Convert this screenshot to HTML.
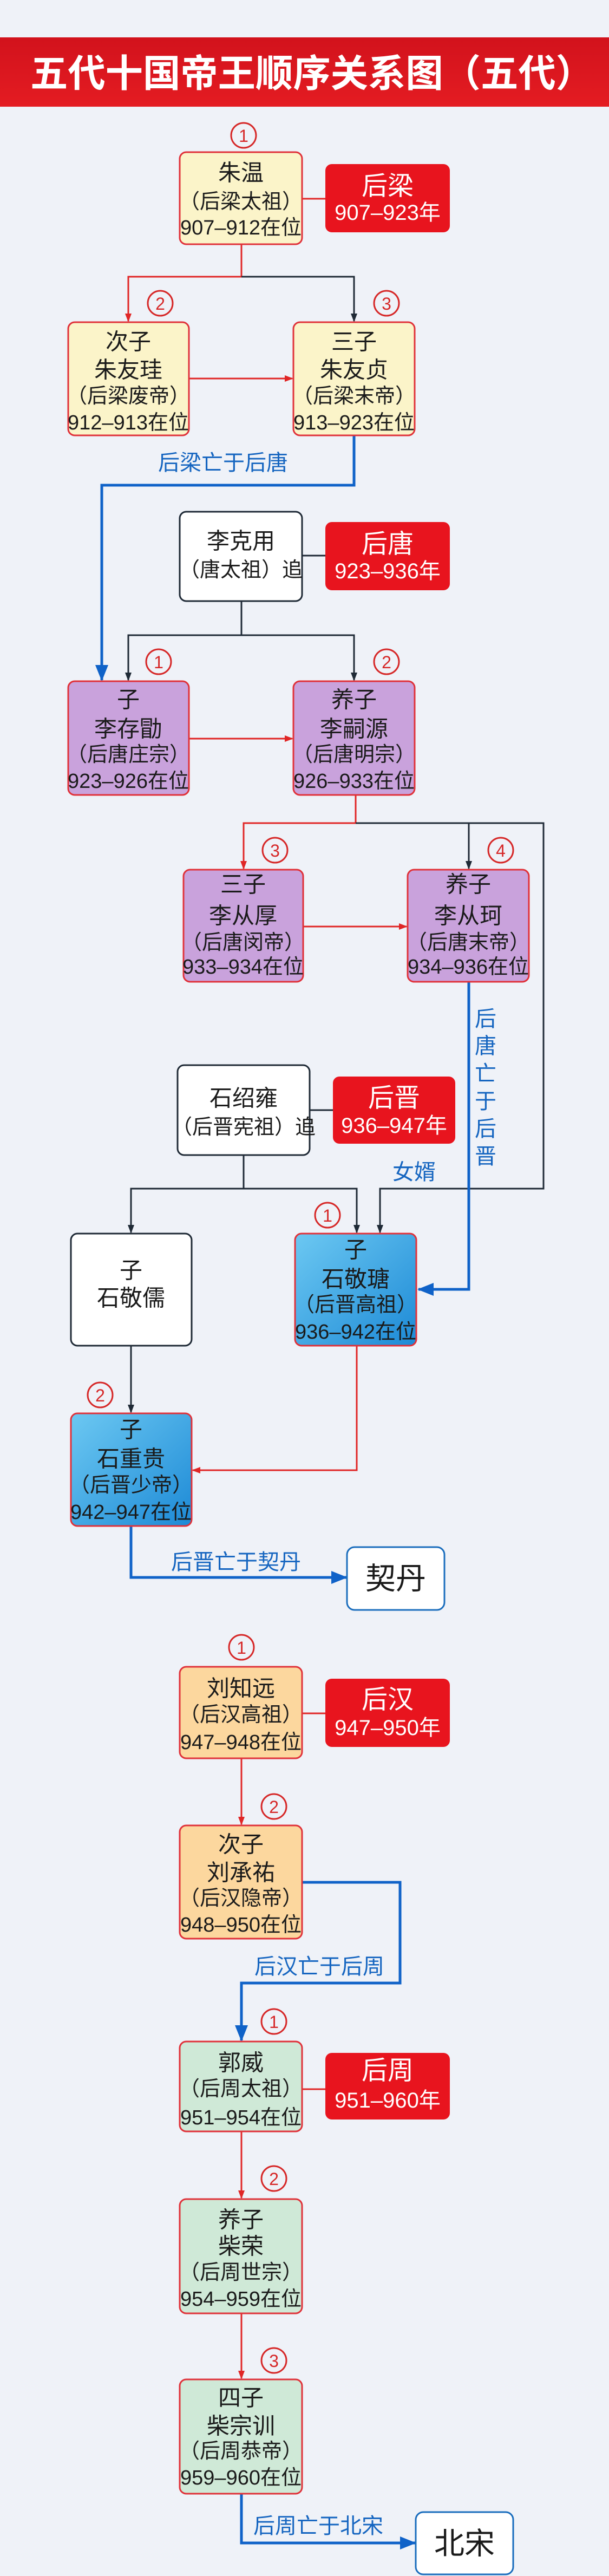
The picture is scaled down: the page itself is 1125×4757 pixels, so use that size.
<!DOCTYPE html>
<html><head><meta charset="utf-8"><style>
html,body{margin:0;padding:0;background:#eff2f8;}
svg{display:block}
text{font-family:"Liberation Sans","Noto Sans CJK SC",sans-serif;}
</style></head><body>
<svg width="1125" height="4757" viewBox="0 0 1125 4757" xmlns="http://www.w3.org/2000/svg">
<defs>
<marker id="mr" markerWidth="16" markerHeight="16" refX="14" refY="8" orient="auto" markerUnits="userSpaceOnUse"><path d="M0,2 L16,8 L0,14 z" fill="#e02626"/></marker>
<marker id="md" markerWidth="16" markerHeight="16" refX="14" refY="8" orient="auto" markerUnits="userSpaceOnUse"><path d="M0,2 L16,8 L0,14 z" fill="#1f2a36"/></marker>
<marker id="mb" markerWidth="30" markerHeight="30" refX="28" refY="15" orient="auto" markerUnits="userSpaceOnUse"><path d="M0,3 L30,15 L0,27 z" fill="#0f62c8"/></marker>
<linearGradient id="gb" x1="0" y1="0" x2="1" y2="1"><stop offset="0" stop-color="#6cc8f2"/><stop offset="1" stop-color="#1d8ad6"/></linearGradient>
<linearGradient id="gt" x1="0" y1="0" x2="0" y2="1"><stop offset="0" stop-color="#d2121c"/><stop offset="1" stop-color="#e41c22"/></linearGradient>
</defs>
<rect width="1125" height="4757" fill="#eff2f8"/>
<!-- Title -->
<rect x="0" y="69" width="1125" height="128" fill="url(#gt)"/>
<text x="576" y="160" font-size="70" font-weight="bold" fill="#fff" text-anchor="middle" textLength="1040" lengthAdjust="spacingAndGlyphs">五代十国帝王顺序关系图（五代）</text>

<g fill="none" stroke-width="3">
<!-- section 1 -->
<line x1="558" y1="367" x2="601" y2="367" stroke="#e02626"/>
<polyline points="446,451 446,511 237,511 237,593" stroke="#e02626" marker-end="url(#mr)"/>
<polyline points="446,511 654,511 654,593" stroke="#1f2a36" marker-end="url(#md)"/>
<line x1="349" y1="699" x2="540" y2="699" stroke="#e02626" marker-end="url(#mr)"/>
<polyline points="654,804 654,896 188,896 188,1256" stroke="#0f62c8" stroke-width="5" marker-end="url(#mb)"/>
<!-- section 2 -->
<line x1="558" y1="1026" x2="601" y2="1026" stroke="#1f2a36"/>
<polyline points="446,1110 446,1173 237,1173 237,1256" stroke="#1f2a36" marker-end="url(#md)"/>
<polyline points="446,1173 654,1173 654,1256" stroke="#1f2a36" marker-end="url(#md)"/>
<line x1="349" y1="1364" x2="540" y2="1364" stroke="#e02626" marker-end="url(#mr)"/>
<polyline points="657,1468 657,1520 450,1520 450,1604" stroke="#e02626" marker-end="url(#mr)"/>
<polyline points="657,1520 1004,1520 1004,2195 702,2195 702,2276" stroke="#1f2a36" marker-end="url(#md)"/>
<line x1="866" y1="1520" x2="866" y2="1604" stroke="#1f2a36" marker-end="url(#md)"/>
<line x1="560" y1="1711" x2="751" y2="1711" stroke="#e02626" marker-end="url(#mr)"/>
<polyline points="866,1813 866,2381 773,2381" stroke="#0f62c8" stroke-width="5" marker-end="url(#mb)"/>
<!-- section 3 -->
<line x1="572" y1="2050" x2="615" y2="2050" stroke="#1f2a36"/>
<polyline points="450,2133 450,2195 242,2195 242,2276" stroke="#1f2a36" marker-end="url(#md)"/>
<polyline points="450,2195 659,2195 659,2276" stroke="#1f2a36" marker-end="url(#md)"/>
<line x1="242" y1="2485" x2="242" y2="2608" stroke="#1f2a36" marker-end="url(#md)"/>
<polyline points="659,2485 659,2715 356,2715" stroke="#e02626" marker-end="url(#mr)"/>
<polyline points="242,2818 242,2913 640,2913" stroke="#0f62c8" stroke-width="5" marker-end="url(#mb)"/>
<!-- section 4 -->
<line x1="558" y1="3164" x2="601" y2="3164" stroke="#e02626"/>
<line x1="446" y1="3247" x2="446" y2="3369" stroke="#e02626" marker-end="url(#mr)"/>
<polyline points="558,3476 739,3476 739,3662 446,3662 446,3768" stroke="#0f62c8" stroke-width="5" marker-end="url(#mb)"/>
<!-- section 5 -->
<line x1="558" y1="3858" x2="601" y2="3858" stroke="#e02626"/>
<line x1="446" y1="3936" x2="446" y2="4059" stroke="#e02626" marker-end="url(#mr)"/>
<line x1="446" y1="4272" x2="446" y2="4392" stroke="#e02626" marker-end="url(#mr)"/>
<polyline points="446,4605 446,4696 767,4696" stroke="#0f62c8" stroke-width="5" marker-end="url(#mb)"/>
</g>

<!-- circles -->
<g fill="none" stroke="#d62828" stroke-width="3">
<circle cx="450" cy="250" r="23"/><circle cx="296" cy="560" r="23"/><circle cx="714" cy="560" r="23"/>
<circle cx="293" cy="1222" r="23"/><circle cx="714" cy="1222" r="23"/>
<circle cx="508" cy="1570" r="23"/><circle cx="925" cy="1570" r="23"/>
<circle cx="605" cy="2244" r="23"/><circle cx="185" cy="2576" r="23"/>
<circle cx="446" cy="3042" r="23"/><circle cx="506" cy="3336" r="23"/>
<circle cx="506" cy="3733" r="23"/><circle cx="506" cy="4023" r="23"/><circle cx="506" cy="4359" r="23"/>
</g>
<g fill="#d62828" font-size="32" text-anchor="middle" dominant-baseline="central">
<text x="450" y="251">1</text><text x="296" y="561">2</text><text x="714" y="561">3</text>
<text x="293" y="1223">1</text><text x="714" y="1223">2</text>
<text x="508" y="1571">3</text><text x="925" y="1571">4</text>
<text x="605" y="2245">1</text><text x="185" y="2577">2</text>
<text x="446" y="3043">1</text><text x="506" y="3337">2</text>
<text x="506" y="3734">1</text><text x="506" y="4024">2</text><text x="506" y="4360">3</text>
</g>

<!-- boxes -->
<g stroke-width="3">
<rect x="332" y="281" width="226" height="170" rx="12" fill="#fbf4c9" stroke="#e0323a"/>
<rect x="126" y="595" width="223" height="209" rx="12" fill="#fbf4c9" stroke="#e0323a"/>
<rect x="542" y="595" width="224" height="209" rx="12" fill="#fbf4c9" stroke="#e0323a"/>
<rect x="332" y="945" width="226" height="165" rx="12" fill="#fff" stroke="#1f2a36"/>
<rect x="126" y="1258" width="223" height="210" rx="12" fill="#c9a2dc" stroke="#e0323a"/>
<rect x="542" y="1258" width="224" height="210" rx="12" fill="#c9a2dc" stroke="#e0323a"/>
<rect x="339" y="1606" width="221" height="207" rx="12" fill="#c9a2dc" stroke="#e0323a"/>
<rect x="753" y="1606" width="224" height="207" rx="12" fill="#c9a2dc" stroke="#e0323a"/>
<rect x="328" y="1967" width="244" height="166" rx="12" fill="#fff" stroke="#1f2a36"/>
<rect x="131" y="2278" width="223" height="207" rx="12" fill="#fff" stroke="#1f2a36"/>
<rect x="545" y="2278" width="224" height="207" rx="12" fill="url(#gb)" stroke="#e0323a"/>
<rect x="131" y="2610" width="223" height="208" rx="12" fill="url(#gb)" stroke="#e0323a"/>
<rect x="641" y="2857" width="180" height="116" rx="14" fill="#fff" stroke="#1a6dbd"/>
<rect x="332" y="3078" width="226" height="169" rx="12" fill="#fcd79e" stroke="#e0323a"/>
<rect x="332" y="3371" width="226" height="209" rx="12" fill="#fcd79e" stroke="#e0323a"/>
<rect x="332" y="3770" width="226" height="166" rx="12" fill="#cfe9d7" stroke="#e0323a"/>
<rect x="332" y="4061" width="226" height="211" rx="12" fill="#cfe9d7" stroke="#e0323a"/>
<rect x="332" y="4394" width="226" height="211" rx="12" fill="#cfe9d7" stroke="#e0323a"/>
<rect x="768" y="4639" width="180" height="115" rx="14" fill="#fff" stroke="#1a6dbd"/>
</g>
<g fill="#e8141e">
<rect x="601" y="303" width="230" height="126" rx="12"/>
<rect x="601" y="964" width="230" height="126" rx="12"/>
<rect x="615" y="1988" width="226" height="124" rx="12"/>
<rect x="601" y="3100" width="230" height="126" rx="12"/>
<rect x="601" y="3791" width="230" height="123" rx="12"/>
</g>

<!-- box text -->
<g fill="#1a1a1a" font-size="38" text-anchor="middle" dominant-baseline="central">
<text x="445" y="319" font-size="42">朱温</text><text x="445" y="373">（后梁太祖）</text><text x="445" y="421">907–912在位</text>
<text x="237" y="631" font-size="42">次子</text><text x="237" y="683" font-size="42">朱友珪</text><text x="237" y="732">（后梁废帝）</text><text x="237" y="781">912–913在位</text>
<text x="654" y="631" font-size="42">三子</text><text x="654" y="683" font-size="42">朱友贞</text><text x="654" y="732">（后梁末帝）</text><text x="654" y="781">913–923在位</text>
<text x="445" y="999" font-size="42">李克用</text><text x="445" y="1053">（唐太祖）追</text>
<text x="237" y="1292" font-size="42">子</text><text x="237" y="1346" font-size="42">李存勖</text><text x="237" y="1394">（后唐庄宗）</text><text x="237" y="1443">923–926在位</text>
<text x="654" y="1292" font-size="42">养子</text><text x="654" y="1346" font-size="42">李嗣源</text><text x="654" y="1394">（后唐明宗）</text><text x="654" y="1443">926–933在位</text>
<text x="449" y="1633" font-size="42">三子</text><text x="449" y="1691" font-size="42">李从厚</text><text x="449" y="1741">（后唐闵帝）</text><text x="449" y="1786">933–934在位</text>
<text x="865" y="1633" font-size="42">养子</text><text x="865" y="1691" font-size="42">李从珂</text><text x="865" y="1741">（后唐末帝）</text><text x="865" y="1786">934–936在位</text>
<text x="450" y="2028" font-size="42">石绍雍</text><text x="450" y="2082">（后晋宪祖）追</text>
<text x="242" y="2346" font-size="42">子</text><text x="242" y="2397" font-size="42">石敬儒</text>
<text x="657" y="2308" font-size="42">子</text><text x="657" y="2362" font-size="42">石敬瑭</text><text x="657" y="2410">（后晋高祖）</text><text x="657" y="2460">936–942在位</text>
<text x="242" y="2640" font-size="42">子</text><text x="242" y="2694" font-size="42">石重贵</text><text x="242" y="2743">（后晋少帝）</text><text x="242" y="2793">942–947在位</text>
<text x="731" y="2915" font-size="56">契丹</text>
<text x="445" y="3118" font-size="42">刘知远</text><text x="445" y="3167">（后汉高祖）</text><text x="445" y="3218">947–948在位</text>
<text x="445" y="3406" font-size="42">次子</text><text x="445" y="3458" font-size="42">刘承祐</text><text x="445" y="3506">（后汉隐帝）</text><text x="445" y="3555">948–950在位</text>
<text x="445" y="3809" font-size="42">郭威</text><text x="445" y="3858">（后周太祖）</text><text x="445" y="3911">951–954在位</text>
<text x="445" y="4099" font-size="42">养子</text><text x="445" y="4148" font-size="42">柴荣</text><text x="445" y="4197">（后周世宗）</text><text x="445" y="4246">954–959在位</text>
<text x="445" y="4428" font-size="42">四子</text><text x="445" y="4480" font-size="42">柴宗训</text><text x="445" y="4527">（后周恭帝）</text><text x="445" y="4576">959–960在位</text>
<text x="858" y="4697" font-size="56">北宋</text>
</g>
<g fill="#fff" text-anchor="middle" dominant-baseline="central">
<text x="716" y="344" font-size="48">后梁</text><text x="716" y="393" font-size="40">907–923年</text>
<text x="716" y="1005" font-size="48">后唐</text><text x="716" y="1055" font-size="40">923–936年</text>
<text x="728" y="2028" font-size="48">后晋</text><text x="728" y="2079" font-size="40">936–947年</text>
<text x="716" y="3139" font-size="48">后汉</text><text x="716" y="3191" font-size="40">947–950年</text>
<text x="716" y="3824" font-size="48">后周</text><text x="716" y="3879" font-size="40">951–960年</text>
</g>
<!-- blue labels -->
<g fill="#1565c0" font-size="40" text-anchor="middle" dominant-baseline="central">
<text x="412" y="855">后梁亡于后唐</text>
<text x="897" y="1882">后</text><text x="897" y="1932">唐</text><text x="897" y="1983">亡</text><text x="897" y="2034">于</text><text x="897" y="2085">后</text><text x="897" y="2136">晋</text>
<text x="765" y="2165">女婿</text>
<text x="436" y="2885">后晋亡于契丹</text>
<text x="590" y="3632">后汉亡于后周</text>
<text x="588" y="4665">后周亡于北宋</text>
</g>
</svg>
</body></html>
